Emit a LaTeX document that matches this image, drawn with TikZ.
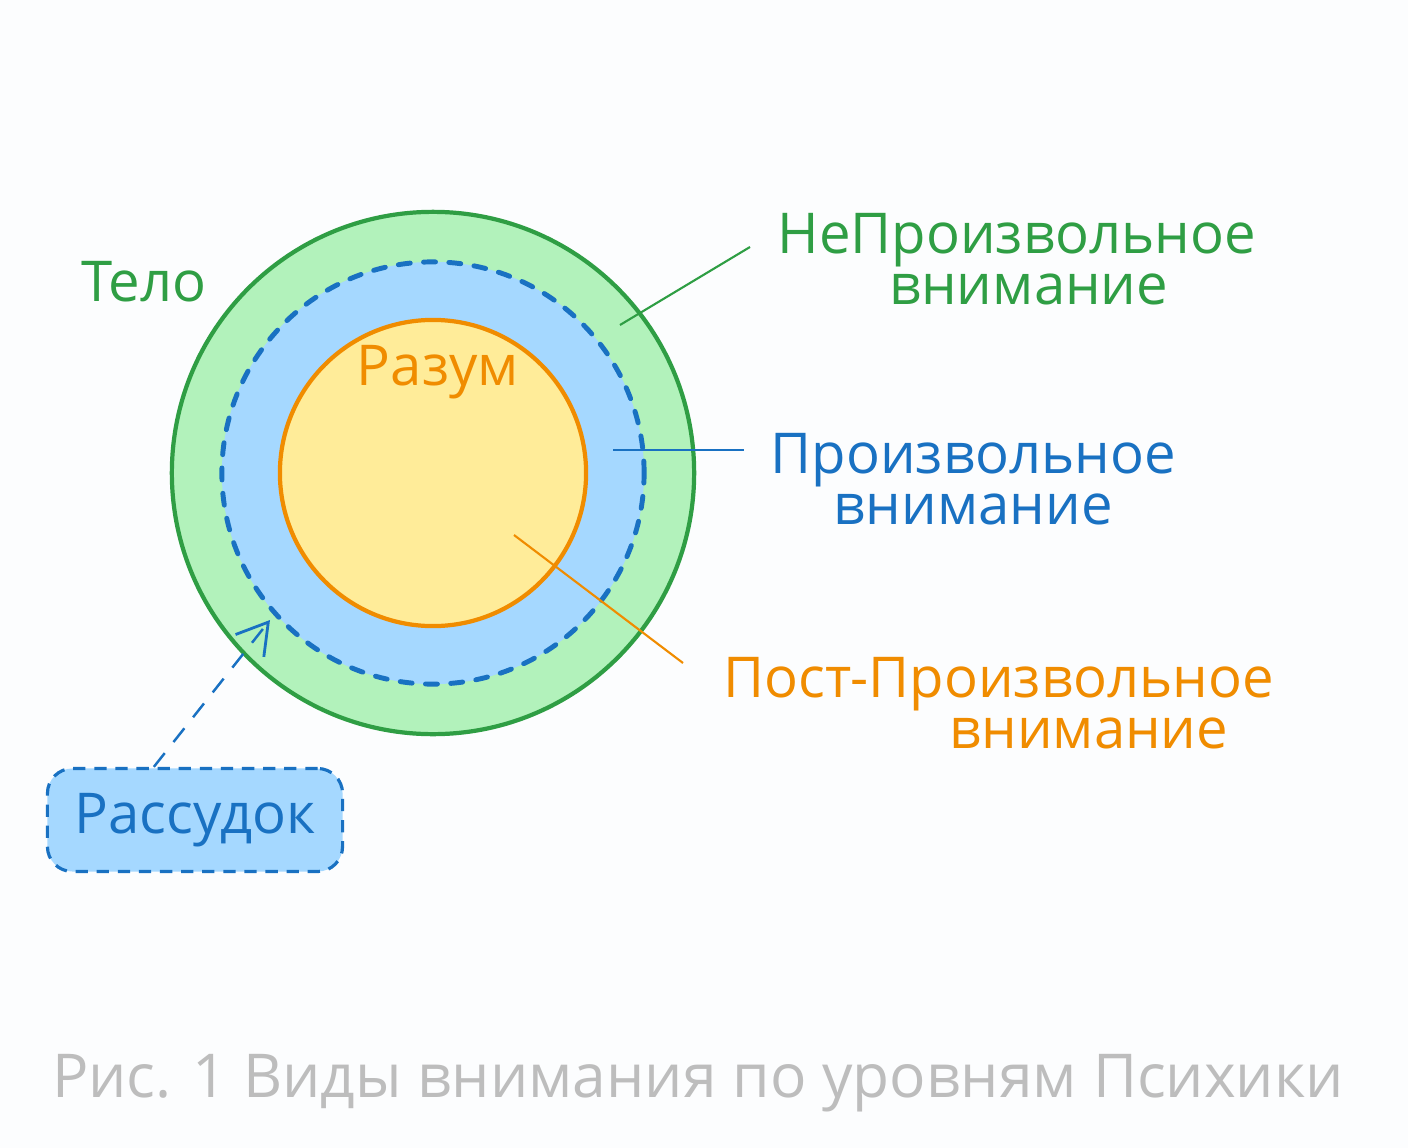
\documentclass[tikz,border=0pt]{standalone}
\usepackage{fontspec}
\setmainfont{Open Sans}
\usetikzlibrary{arrows.meta}
\definecolor{gstroke}{HTML}{2F9E44}
\definecolor{gfill}{HTML}{B2F2BB}
\definecolor{bstroke}{HTML}{1971C2}
\definecolor{bfill}{HTML}{A5D8FF}
\definecolor{ostroke}{HTML}{F08C00}
\definecolor{ofill}{HTML}{FFEC99}
\definecolor{capgray}{HTML}{BDBDBD}
\definecolor{paper}{HTML}{FCFDFE}
\tikzset{
  lbl/.style={align=center,inner sep=0pt,font=\fontsize{16}{14.6}\selectfont},
  leader/.style={line width=0.6pt},
  ring/.style={line width=1.2pt}
}
\begin{document}
\begin{tikzpicture}[x=0.01cm,y=-0.01cm]
                \fill[paper] (0,0) rectangle (1408,1148);
                \useasboundingbox (0,0) rectangle (1408,1148);
                % circles
                \draw[ring,gstroke,fill=gfill] (433,473) circle[radius=2.61cm];
                \draw[ring,bstroke,fill=bfill,line width=1.4pt,line cap=round,dash pattern=on 3.4pt off 3.8pt] (433,473) circle[radius=2.11cm];
                \draw[ring,ostroke,fill=ofill] (433,473) circle[radius=1.53cm];
                % labels
                \node[lbl,gstroke] (telo) at (144,282) {Тело};
                \node[lbl,ostroke] (razum) at (438,372) {Разум};
                \node[lbl,gstroke,anchor=west] (nepr) at (777,259) {НеПроизвольное\\\hspace*{0.24cm}внимание};
                \node[lbl,bstroke,anchor=west] (pr) at (770,479) {Произвольное\\внимание};
                \node[lbl,ostroke,anchor=west] (postpr) at (723,703) {Пост-Произвольное\\\hspace*{1.8cm}внимание};
                \node[lbl,bstroke,draw,line width=0.9pt,dash pattern=on 3.5pt off 2.5pt,fill=bfill,rounded corners=0.25cm,minimum width=2.95cm,minimum height=1.03cm] (rassudok) at (195,820) {Рассудок};
                \node[capgray,inner sep=0pt,font=\fontsize{17.2}{20}\selectfont] (caption) at (698,1083) {Рис. 1 Виды внимания по уровням Психики};
                % leaders
                \coordinate (g1) at (620,325);
                \coordinate (g2) at (750,247);
                \coordinate (b1) at (613,450);
                \coordinate (b2) at (744,450);
                \coordinate (o1) at (514,535);
                \coordinate (o2) at (683,663);
                \coordinate (tip) at (270,620);
                \draw[leader,gstroke] (g1) -- (g2);
                \draw[leader,bstroke] (b1) -- (b2);
                \draw[leader,ostroke] (o1) -- (o2);
                \draw[bstroke,line width=0.7pt,dash pattern=on 5pt off 4pt,-{Straight Barb[length=3mm,width=3.6mm,line width=0.8pt]}] (rassudok.north west) ++(108,0) -- (tip);
            \end{tikzpicture}
\end{document}
